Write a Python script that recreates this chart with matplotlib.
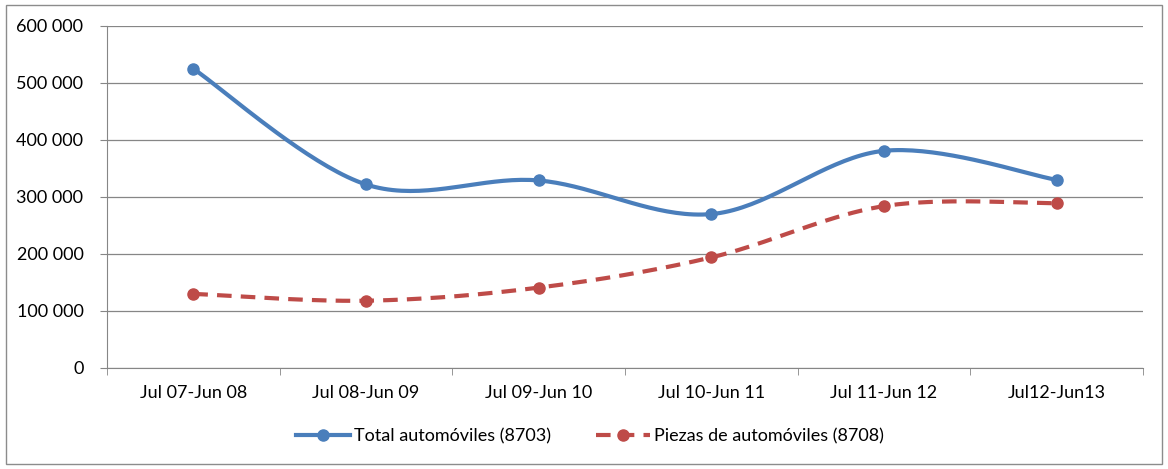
import matplotlib.pyplot as plt
from matplotlib.patches import Rectangle
from matplotlib.ticker import FuncFormatter
import numpy as np

# Chart data
periods = ["Jul 07-Jun 08", "Jul 08-Jun 09", "Jul 09-Jun 10",
           "Jul 10-Jun 11", "Jul 11-Jun 12", "Jul12-Jun13"]
total_autos = [525000, 322000, 329000, 270000, 381000, 330000]
piezas_autos = [130000, 118000, 141000, 194000, 284000, 289000]

BLUE = "#4A7EBB"
RED = "#BE4B48"


def smooth(x, y, n=40):
    """Excel-style smoothed line: cubic Bezier segments with Catmull-Rom control points"""
    x = np.asarray(x, float)
    y = np.asarray(y, float)
    px = np.concatenate([[x[0]], x, [x[-1]]])
    py = np.concatenate([[y[0]], y, [y[-1]]])
    t = np.linspace(0, 1, n)
    xs, ys = [], []
    for i in range(len(x) - 1):
        p0 = np.array([px[i + 1], py[i + 1]])
        p3 = np.array([px[i + 2], py[i + 2]])
        c1 = p0 + (p3 - np.array([px[i], py[i]])) / 6.0
        c2 = p3 - (np.array([px[i + 3], py[i + 3]]) - p0) / 6.0
        b = ((1 - t) ** 3)[:, None] * p0 + (3 * (1 - t) ** 2 * t)[:, None] * c1 \
            + (3 * (1 - t) * t ** 2)[:, None] * c2 + (t ** 3)[:, None] * p3
        xs.append(b[:, 0])
        ys.append(b[:, 1])
    return np.concatenate(xs), np.concatenate(ys)


plt.rcParams["font.family"] = ["Lato", "DejaVu Sans"]
plt.rcParams["font.size"] = 13

fig = plt.figure(figsize=(11.68, 4.69), dpi=100)
ax = fig.add_axes([0.0916, 0.2154, 0.8870, 0.7292])

# Outer chart border
fig.patches.append(Rectangle((0.005, 0.01), 0.99, 0.98, transform=fig.transFigure,
                             fill=False, edgecolor="#8C8C8C", linewidth=1.0))

x = np.arange(len(periods))

sx, sy = smooth(x, total_autos)
ax.plot(sx, sy, color=BLUE, linewidth=3, solid_capstyle="round", zorder=3)
ax.plot(x, total_autos, "o", color=BLUE, markersize=8, zorder=4)

sx, sy = smooth(x, piezas_autos)
ax.plot(sx, sy, color=RED, linewidth=3, dashes=(3.5, 2.2), zorder=3)
ax.plot(x, piezas_autos, "o", color=RED, markersize=8, zorder=4)

# Legend proxies
ax.plot([], [], "-o", color=BLUE, linewidth=3, markersize=8, label="Total automóviles (8703)")
ax.plot([], [], "--o", color=RED, linewidth=3, markersize=8, dashes=(3.5, 2.2),
        label="Piezas de automóviles (8708)")

ax.set_xlim(-0.5, len(periods) - 0.5)
ax.set_ylim(0, 600000)
ax.set_yticks(np.arange(0, 600001, 100000))
ax.yaxis.set_major_formatter(FuncFormatter(lambda v, p: f"{int(v):,}".replace(",", " ")))
ax.set_xticks(x)
ax.set_xticklabels(periods)
ax.set_xticks(np.arange(-0.5, len(periods)), minor=True)
ax.tick_params(axis="x", which="major", length=0, pad=12)
ax.tick_params(axis="x", which="minor", length=5, color="#868686")
ax.tick_params(axis="y", length=5, color="#868686", pad=12)

ax.grid(True, axis="y", color="#868686", linewidth=0.9)
ax.set_axisbelow(True)
for side in ["top", "right"]:
    ax.spines[side].set_visible(False)
for side in ["left", "bottom"]:
    ax.spines[side].set_color("#868686")

handles, labels = ax.get_legend_handles_labels()
fig.legend(handles[-2:], labels[-2:], loc="center", bbox_to_anchor=(0.505, 0.07),
           ncol=2, frameon=False, handlelength=3.0, columnspacing=2.5, handletextpad=0.2)

fig.savefig("out.png", dpi=100)
